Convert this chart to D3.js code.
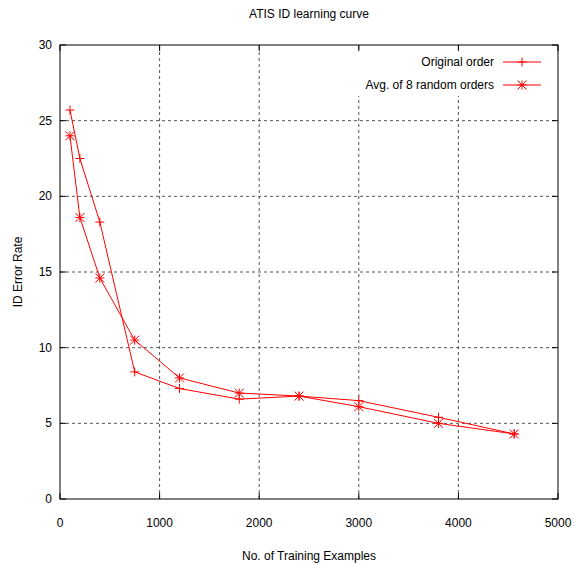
<!DOCTYPE html>
<html>
<head>
<meta charset="utf-8">
<script src="https://cdn.jsdelivr.net/npm/d3@7"></script>
<style>
  body { margin: 0; background: #fff; }
  svg { display: block; font-family: "Liberation Sans", Arial, sans-serif; }
</style>
</head>
<body>
<script>
// training set sizes and error rates
const sizes = [100, 200, 400, 750, 1200, 1800, 2400, 3000, 3800, 4560];
const originalOrder = [25.7, 22.5, 18.3, 8.4, 7.3, 6.6, 6.8, 6.5, 5.4, 4.3];
const randomAvg = [24.0, 18.6, 14.6, 10.5, 8.0, 7.0, 6.8, 6.1, 5.0, 4.3];
const xTicks = [0, 1000, 2000, 3000, 4000, 5000];
const yTicks = [0, 5, 10, 15, 20, 25, 30];
const seriesNames = ["Original order", "Avg. of 8 random orders"];

const width = 574, height = 563;
const margin = { top: 45, right: 16, bottom: 64, left: 60 };
const red = "#ff0000";

const svg = d3.select("body").append("svg")
  .attr("width", width)
  .attr("height", height);

const x = d3.scaleLinear().domain([0, 5000]).range([margin.left, width - margin.right]);
const y = d3.scaleLinear().domain([0, 30]).range([height - margin.bottom, margin.top]);

// grid (dashed)
svg.append("g").selectAll("line")
  .data(xTicks.slice(1, -1))
  .join("line")
  .attr("x1", d => x(d)).attr("x2", d => x(d))
  .attr("y1", y(0)).attr("y2", y(30))
  .attr("stroke", "#555").attr("stroke-dasharray", "3,3");
svg.append("g").selectAll("line")
  .data(yTicks.slice(1, -1))
  .join("line")
  .attr("x1", x(0)).attr("x2", x(5000))
  .attr("y1", d => y(d)).attr("y2", d => y(d))
  .attr("stroke", "#555").attr("stroke-dasharray", "3,3");

// the key blanks out the grid behind it
svg.append("rect")
  .attr("x", 350).attr("y", 51)
  .attr("width", x(5000) - 350).attr("height", 45)
  .attr("fill", "#fff");

// border
svg.append("rect")
  .attr("x", x(0)).attr("y", y(30))
  .attr("width", x(5000) - x(0)).attr("height", y(0) - y(30))
  .attr("fill", "none").attr("stroke", "#000");

// inward ticks on all four sides
const tl = 6;
const tk = svg.append("g").attr("stroke", "#000");
xTicks.forEach(t => {
  tk.append("line").attr("x1", x(t)).attr("x2", x(t)).attr("y1", y(0)).attr("y2", y(0) - tl);
  tk.append("line").attr("x1", x(t)).attr("x2", x(t)).attr("y1", y(30)).attr("y2", y(30) + tl);
});
yTicks.forEach(t => {
  tk.append("line").attr("x1", x(0)).attr("x2", x(0) + tl).attr("y1", y(t)).attr("y2", y(t));
  tk.append("line").attr("x1", x(5000)).attr("x2", x(5000) - tl).attr("y1", y(t)).attr("y2", y(t));
});

// tick labels
svg.append("g").selectAll("text")
  .data(xTicks)
  .join("text")
  .attr("x", d => x(d)).attr("y", y(0) + 28)
  .attr("text-anchor", "middle").attr("font-size", 12)
  .text(d => d);
svg.append("g").selectAll("text")
  .data(yTicks)
  .join("text")
  .attr("x", x(0) - 8).attr("y", d => y(d) + 4)
  .attr("text-anchor", "end").attr("font-size", 12)
  .text(d => d);

// titles
svg.append("text")
  .attr("x", (x(0) + x(5000)) / 2).attr("y", 18)
  .attr("text-anchor", "middle").attr("font-size", 12)
  .text("ATIS ID learning curve");
svg.append("text")
  .attr("x", (x(0) + x(5000)) / 2).attr("y", 560)
  .attr("text-anchor", "middle").attr("font-size", 12)
  .text("No. of Training Examples");
svg.append("text")
  .attr("transform", `translate(22,${(y(0) + y(30)) / 2}) rotate(-90)`)
  .attr("text-anchor", "middle").attr("font-size", 12)
  .text("ID Error Rate");

// markers
function plus(g, cx, cy) {
  const s = 4.5;
  g.append("path")
    .attr("d", `M${cx - s},${cy}H${cx + s}M${cx},${cy - s}V${cy + s}`)
    .attr("stroke", red).attr("fill", "none");
}
function star(g, cx, cy) {
  const s = 4.5;
  g.append("path")
    .attr("d", `M${cx - s},${cy}H${cx + s}M${cx},${cy - s}V${cy + s}` +
      `M${cx - s},${cy - s}L${cx + s},${cy + s}M${cx - s},${cy + s}L${cx + s},${cy - s}`)
    .attr("stroke", red).attr("fill", "none");
}

const line = d3.line().x(d => x(d[0])).y(d => y(d[1]));
const series = [
  { values: d3.zip(sizes, originalOrder), marker: plus },
  { values: d3.zip(sizes, randomAvg), marker: star }
];

series.forEach((s, i) => {
  const g = svg.append("g");
  g.append("path")
    .attr("d", line(s.values))
    .attr("fill", "none").attr("stroke", red).attr("stroke-width", 1);
  s.values.forEach(d => s.marker(g, x(d[0]), y(d[1])));

  // key entry
  const ky = 62 + i * 23;
  svg.append("text")
    .attr("x", 494).attr("y", ky + 4)
    .attr("text-anchor", "end").attr("font-size", 12)
    .text(seriesNames[i]);
  g.append("line")
    .attr("x1", 503).attr("x2", 541).attr("y1", ky).attr("y2", ky)
    .attr("stroke", red);
  s.marker(g, 522, ky);
});
</script>
</body>
</html>
